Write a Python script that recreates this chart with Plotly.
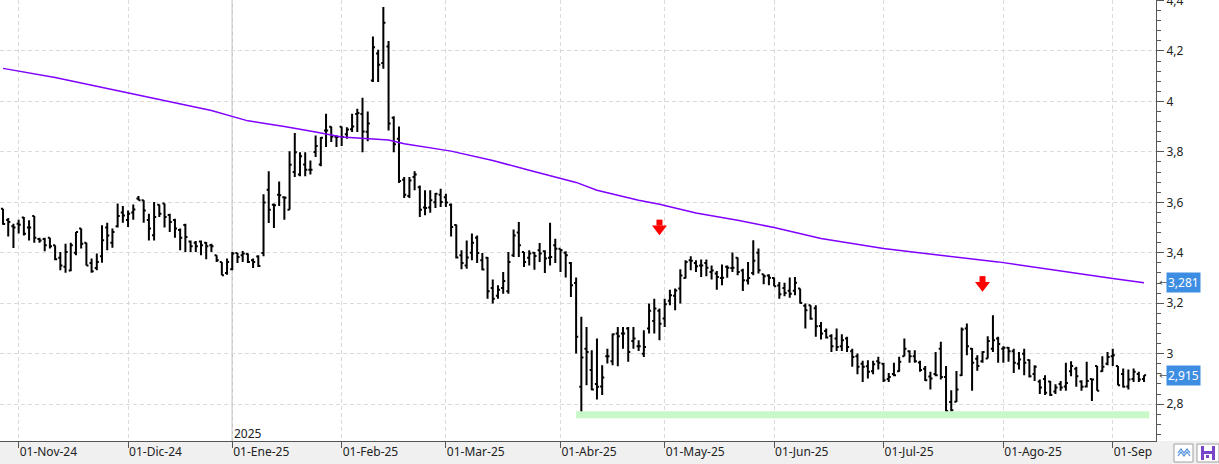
import plotly.graph_objects as go

# ---------------- data ----------------
open_ = [3.575, 3.530, 3.505, 3.515, 3.540, 3.500, 3.546, 3.455, 3.455, 3.460,
         3.430, 3.380, 3.345, 3.330, 3.400, 3.496, 3.440, 3.360, 3.340, 3.386,
         3.500, 3.440, 3.505, 3.560, 3.530, 3.560, 3.615, 3.608, 3.530, 3.470,
         3.590, 3.595, 3.550, 3.530, 3.490, 3.510, 3.445, 3.440, 3.445, 3.440,
         3.430, 3.390, 3.364, 3.320, 3.335, 3.399, 3.390, 3.395, 3.370, 3.385,
         3.399, 3.650, 3.590, 3.630, 3.620, 3.571, 3.720, 3.710, 3.750, 3.729,
         3.800, 3.750, 3.885, 3.900, 3.860, 3.900, 3.870, 3.890, 3.950, 3.950,
         3.880, 4.083, 4.190, 4.152, 4.218, 3.935, 3.852, 3.690, 3.625, 3.700,
         3.660, 3.580, 3.580, 3.600, 3.630, 3.620, 3.590, 3.510, 3.390, 3.350,
         3.400, 3.460, 3.370, 3.380, 3.260, 3.230, 3.260, 3.248, 3.390, 3.480,
         3.403, 3.380, 3.400, 3.410, 3.406, 3.380, 3.430, 3.416, 3.400, 3.360,
         3.280, 2.869, 3.020, 2.935, 2.880, 2.870, 2.990, 2.970, 3.080, 3.080,
         3.100, 3.050, 3.030, 3.000, 3.100, 3.130, 3.170, 3.140, 3.210, 3.230,
         3.258, 3.300, 3.370, 3.360, 3.350, 3.360, 3.324, 3.318, 3.300, 3.345,
         3.340, 3.380, 3.330, 3.290, 3.320, 3.400, 3.315, 3.310, 3.300, 3.270,
         3.260, 3.250, 3.250, 3.258, 3.190, 3.192, 3.180, 3.110, 3.090, 3.070,
         3.060, 3.030, 3.060, 3.010, 2.990, 2.960, 2.950, 2.930, 2.970, 2.960,
         2.900, 2.920, 2.930, 2.990, 3.010, 2.990, 2.965, 2.940, 2.910, 2.920,
         3.020, 2.908, 2.809, 2.810, 2.915, 3.100, 3.020, 2.980, 2.970, 2.981,
         3.020, 3.060, 3.020, 3.024, 3.010, 2.960, 3.000, 2.975, 2.920, 2.890,
         2.900, 2.890, 2.850, 2.880, 2.870, 2.930, 2.940, 2.890, 2.870, 2.900,
         2.951, 2.930, 2.960, 2.990, 2.951, 2.920, 2.870, 2.900, 2.920, 2.900]

high = [3.575, 3.538, 3.515, 3.531, 3.542, 3.529, 3.546, 3.460, 3.460, 3.460,
        3.430, 3.403, 3.436, 3.440, 3.482, 3.496, 3.440, 3.377, 3.397, 3.509,
        3.519, 3.496, 3.595, 3.585, 3.568, 3.591, 3.625, 3.608, 3.555, 3.601,
        3.591, 3.595, 3.555, 3.535, 3.496, 3.515, 3.449, 3.447, 3.449, 3.443,
        3.436, 3.390, 3.364, 3.377, 3.403, 3.399, 3.407, 3.397, 3.377, 3.390,
        3.632, 3.723, 3.595, 3.683, 3.624, 3.802, 3.875, 3.799, 3.799, 3.766,
        3.865, 3.859, 3.951, 3.901, 3.865, 3.901, 3.898, 3.951, 3.971, 4.015,
        3.960, 4.257, 4.205, 4.374, 4.239, 3.941, 3.901, 3.700, 3.700, 3.723,
        3.667, 3.648, 3.648, 3.637, 3.654, 3.634, 3.595, 3.512, 3.410, 3.449,
        3.476, 3.469, 3.399, 3.383, 3.294, 3.271, 3.324, 3.403, 3.492, 3.522,
        3.403, 3.410, 3.403, 3.439, 3.410, 3.519, 3.456, 3.416, 3.406, 3.364,
        3.302, 3.146, 3.106, 3.014, 3.060, 2.954, 3.020, 3.080, 3.106, 3.106,
        3.106, 3.106, 3.053, 3.093, 3.199, 3.218, 3.179, 3.218, 3.254, 3.258,
        3.335, 3.370, 3.386, 3.370, 3.373, 3.373, 3.350, 3.328, 3.354, 3.350,
        3.401, 3.381, 3.337, 3.364, 3.450, 3.417, 3.315, 3.315, 3.302, 3.284,
        3.281, 3.302, 3.304, 3.258, 3.199, 3.192, 3.192, 3.126, 3.100, 3.077,
        3.100, 3.077, 3.067, 3.020, 3.001, 2.972, 2.974, 2.972, 2.988, 2.964,
        2.924, 2.964, 2.988, 3.060, 3.014, 3.014, 2.972, 2.951, 2.928, 3.007,
        3.047, 2.951, 2.855, 2.931, 3.104, 3.120, 3.023, 2.994, 3.010, 3.069,
        3.152, 3.067, 3.030, 3.027, 3.020, 3.007, 3.020, 2.977, 2.954, 2.898,
        2.915, 2.892, 2.879, 2.892, 2.964, 2.970, 2.948, 2.895, 2.968, 2.902,
        2.951, 2.990, 3.007, 3.020, 2.951, 2.941, 2.937, 2.941, 2.928, 2.915]

low = [3.511, 3.465, 3.419, 3.476, 3.469, 3.449, 3.440, 3.440, 3.406, 3.417,
       3.370, 3.331, 3.321, 3.327, 3.390, 3.417, 3.350, 3.321, 3.331, 3.361,
       3.410, 3.420, 3.500, 3.519, 3.502, 3.531, 3.608, 3.519, 3.449, 3.449,
       3.542, 3.500, 3.482, 3.460, 3.410, 3.403, 3.403, 3.403, 3.390, 3.374,
       3.403, 3.364, 3.311, 3.313, 3.331, 3.360, 3.364, 3.360, 3.340, 3.344,
       3.386, 3.518, 3.498, 3.585, 3.531, 3.571, 3.700, 3.703, 3.703, 3.710,
       3.780, 3.743, 3.819, 3.839, 3.819, 3.823, 3.852, 3.879, 3.879, 3.799,
       3.842, 4.077, 4.077, 4.129, 3.885, 3.799, 3.677, 3.617, 3.617, 3.648,
       3.542, 3.549, 3.559, 3.578, 3.582, 3.582, 3.465, 3.377, 3.335, 3.337,
       3.370, 3.360, 3.331, 3.218, 3.199, 3.218, 3.238, 3.238, 3.383, 3.383,
       3.344, 3.350, 3.333, 3.364, 3.320, 3.350, 3.360, 3.324, 3.302, 3.225,
       3.001, 2.759, 2.875, 2.855, 2.818, 2.836, 2.961, 2.954, 2.950, 3.020,
       2.968, 3.020, 3.011, 2.987, 3.080, 3.080, 3.053, 3.106, 3.192, 3.172,
       3.199, 3.298, 3.331, 3.324, 3.304, 3.307, 3.294, 3.254, 3.271, 3.301,
       3.324, 3.311, 3.249, 3.274, 3.311, 3.318, 3.275, 3.271, 3.267, 3.218,
       3.228, 3.222, 3.232, 3.199, 3.100, 3.135, 3.067, 3.056, 3.060, 3.007,
       3.011, 3.011, 3.007, 2.948, 2.919, 2.888, 2.902, 2.919, 2.937, 2.888,
       2.888, 2.911, 2.928, 2.990, 2.964, 2.964, 2.928, 2.892, 2.858, 2.911,
       2.898, 2.770, 2.770, 2.809, 2.912, 2.994, 2.853, 2.932, 2.964, 2.981,
       3.007, 2.964, 2.964, 2.968, 2.924, 2.937, 2.915, 2.906, 2.892, 2.840,
       2.836, 2.832, 2.840, 2.853, 2.853, 2.911, 2.869, 2.853, 2.866, 2.813,
       2.853, 2.928, 2.954, 2.951, 2.875, 2.866, 2.858, 2.888, 2.888, 2.888]

close = [3.514, 3.522, 3.500, 3.511, 3.475, 3.500, 3.460, 3.449, 3.430, 3.426,
         3.374, 3.350, 3.403, 3.430, 3.482, 3.436, 3.350, 3.327, 3.364, 3.450,
         3.469, 3.482, 3.546, 3.548, 3.555, 3.572, 3.608, 3.568, 3.496, 3.542,
         3.555, 3.542, 3.522, 3.496, 3.460, 3.463, 3.426, 3.426, 3.430, 3.426,
         3.426, 3.370, 3.311, 3.364, 3.397, 3.383, 3.397, 3.364, 3.364, 3.348,
         3.599, 3.571, 3.588, 3.628, 3.618, 3.749, 3.799, 3.783, 3.729, 3.729,
         3.823, 3.856, 3.885, 3.861, 3.859, 3.859, 3.889, 3.901, 3.954, 3.881,
         3.912, 4.215, 4.145, 4.312, 3.912, 3.830, 3.685, 3.630, 3.687, 3.710,
         3.571, 3.578, 3.608, 3.634, 3.601, 3.599, 3.502, 3.381, 3.360, 3.381,
         3.440, 3.399, 3.334, 3.248, 3.218, 3.254, 3.288, 3.364, 3.469, 3.430,
         3.364, 3.397, 3.387, 3.397, 3.377, 3.383, 3.416, 3.410, 3.390, 3.271,
         3.067, 2.985, 3.007, 2.858, 2.869, 2.906, 2.990, 3.077, 3.069, 3.080,
         3.007, 3.060, 3.030, 3.027, 3.170, 3.179, 3.119, 3.196, 3.232, 3.251,
         3.310, 3.364, 3.368, 3.347, 3.350, 3.341, 3.330, 3.304, 3.301, 3.341,
         3.341, 3.324, 3.291, 3.300, 3.368, 3.331, 3.307, 3.301, 3.267, 3.236,
         3.241, 3.238, 3.281, 3.201, 3.172, 3.139, 3.109, 3.080, 3.064, 3.030,
         3.027, 3.053, 3.027, 2.987, 2.948, 2.948, 2.928, 2.958, 2.964, 2.895,
         2.908, 2.915, 2.968, 3.020, 2.990, 2.970, 2.935, 2.895, 2.902, 2.915,
         2.908, 2.773, 2.776, 2.858, 3.096, 3.030, 2.964, 2.951, 3.007, 3.050,
         3.053, 3.038, 3.024, 3.010, 2.964, 2.977, 2.964, 2.911, 2.948, 2.866,
         2.845, 2.836, 2.866, 2.866, 2.884, 2.951, 2.911, 2.869, 2.892, 2.898,
         2.853, 2.948, 2.987, 2.994, 2.875, 2.869, 2.898, 2.928, 2.898, 2.915]

# moving average (read at selected sessions)
ma_idx = [0, 10, 20, 30, 40, 47, 54, 60, 65, 74, 77, 86, 94, 101, 110, 114,
          122, 126, 133, 141, 148, 157, 169, 177, 191, 213, 219]
ma_val = [4.131, 4.095, 4.051, 4.008, 3.964, 3.923, 3.901, 3.879, 3.859, 3.847,
          3.832, 3.803, 3.766, 3.727, 3.679, 3.648, 3.608, 3.592, 3.558, 3.529,
          3.500, 3.457, 3.417, 3.397, 3.364, 3.298, 3.281]

# month ticks (session index of first trading day)
month_idx = [3, 24, 44, 65, 85, 107, 127, 148, 169, 192, 213]
month_lbl = ['01-Nov-24', '01-Dic-24', '01-Ene-25', '01-Feb-25', '01-Mar-25',
             '01-Abr-25', '01-May-25', '01-Jun-25', '01-Jul-25', '01-Ago-25',
             '01-Sep']
year_label = '2025'
year_idx = 44

# support line and signal arrows
support_x = [110, 220]
support_level = 2.758
arrow_x = [126, 188]
arrow_tip = [3.470, 3.246]

# ---------------- layout geometry ----------------
W, H = 1219, 464
ML, MR, MT, MB = 0, 63, 0, 23
PW, PH = W - ML - MR, H - MT - MB
Y_MIN, Y_MAX = 2.654, 4.402
X_MIN, X_MAX = -0.58, 221.3
ppu = PH / (Y_MAX - Y_MIN)


def fmt(v):
    return f"{v:.3f}".replace('.', ',')


def px(x, y):
    """pixel (page) -> paper coordinates"""
    return (x - ML) / PW, (MT + PH - y) / PH


idx = list(range(len(close)))

fig = go.Figure()

fig.add_trace(go.Scatter(x=support_x, y=[support_level] * len(support_x),
                         mode='lines', line=dict(color='#c8f8c8', width=7),
                         hoverinfo='skip'))

fig.add_trace(go.Ohlc(x=idx, open=open_, high=high, low=low, close=close,
                      increasing=dict(line=dict(color='#000000', width=2)),
                      decreasing=dict(line=dict(color='#000000', width=2)),
                      tickwidth=0.4))

fig.add_trace(go.Scatter(x=ma_idx, y=ma_val, mode='lines',
                         line=dict(color='#8000ff', width=1.5), hoverinfo='skip'))

# red down arrows: stem + head
fig.add_trace(go.Scatter(x=arrow_x, y=[v + 12.5 / ppu for v in arrow_tip],
                         mode='markers',
                         marker=dict(symbol='square', size=6, color='#ff0000',
                                     line=dict(width=0)), hoverinfo='skip'))
fig.add_trace(go.Scatter(x=arrow_x, y=[v + 6.5 / ppu for v in arrow_tip],
                         mode='markers',
                         marker=dict(symbol='triangle-down', size=13, color='#ff0000',
                                     line=dict(width=0)), hoverinfo='skip'))

shapes = []
# bottom grey band
bx0, by0 = px(0, H)
bx1, by1 = px(W, MT + PH)
shapes.append(dict(type='rect', xref='paper', yref='paper', x0=bx0, x1=bx1,
                   y0=by0, y1=by1, fillcolor='#f0f0f0', line=dict(width=0),
                   layer='below'))
# year separator
shapes.append(dict(type='line', xref='x', yref='paper', x0=year_idx, x1=year_idx,
                   y0=0, y1=1, line=dict(color='#c8c8c8', width=1.5), layer='between'))

# icons in bottom-right corner
def rect_px(x0, y0, x1, y1, fill, line_color=None, lw=0):
    a = px(x0, y1)
    b = px(x1, y0)
    return dict(type='rect', xref='paper', yref='paper', x0=a[0], y0=a[1],
                x1=b[0], y1=b[1], fillcolor=fill,
                line=dict(color=line_color or fill, width=lw), layer='above')

shapes.append(rect_px(1174, 444, 1193, 462, '#ffffff', '#a0a0a0', 1))
shapes.append(rect_px(1197, 444, 1219, 462, '#ffffff', '#a0a0a0', 1))
for dy in (0, 3):
    pts = [(1178, 453 + dy), (1181, 449 + dy), (1184, 453 + dy),
           (1187, 449 + dy), (1190, 453 + dy)]
    path = 'M ' + ' L '.join(f'{px(a, b)[0]:.5f},{px(a, b)[1]:.5f}' for a, b in pts)
    shapes.append(dict(type='path', xref='paper', yref='paper', path=path,
                       line=dict(color='#4a8fd8', width=1.2), layer='above'))
shapes.append(rect_px(1201, 446, 1215, 460, '#7b45c8'))
shapes.append(rect_px(1204, 446, 1212, 451, '#ffffff'))
shapes.append(rect_px(1204, 454, 1212, 460, '#ffffff'))
shapes.append(rect_px(1206, 455, 1209, 458, '#7b45c8'))

annotations = []
# value boxes on the right axis
for v in (ma_val[-1], close[-1]):
    annotations.append(dict(xref='paper', yref='y', x=(1166 - ML) / PW, y=v,
                            xanchor='left', yanchor='middle', text=fmt(v),
                            showarrow=False, bgcolor='#3d8ee2', borderpad=1,
                            font=dict(color='#ffffff', size=12, family='Noto Sans')))
    annotations.append(dict(xref='paper', yref='y', x=(1157 - ML) / PW, y=v,
                            xanchor='left', yanchor='middle', text='←',
                            showarrow=False,
                            font=dict(color='#555555', size=10, family='DejaVu Sans')))
# year label
annotations.append(dict(xref='x', yref='paper', x=year_idx, y=(PH - 433 + MT) / PH,
                        xanchor='left', yanchor='middle', xshift=0, text=year_label,
                        showarrow=False, font=dict(color='#222222', size=12,
                                                   family='Noto Sans')))

grid = '#dadada'
fig.update_layout(
    width=W, height=H,
    margin=dict(l=ML, r=MR, t=MT, b=MB, pad=0, autoexpand=False),
    paper_bgcolor='#ffffff', plot_bgcolor='#ffffff',
    showlegend=False, separators=',.',
    font=dict(family='Noto Sans', size=12, color='#222222'),
    shapes=shapes, annotations=annotations,
    xaxis=dict(range=[X_MIN, X_MAX], tickmode='array', tickvals=month_idx,
               ticktext=month_lbl, ticks='outside', ticklen=6, tickcolor='#555555',
               showline=True, linecolor='#555555', linewidth=1,
               showgrid=True, gridcolor=grid, griddash='4px,3px', gridwidth=1,
               zeroline=False, ticklabelposition='outside right',
               automargin=False,
               rangeslider=dict(visible=False), fixedrange=True),
    yaxis=dict(range=[Y_MIN, Y_MAX], side='right', tick0=0, dtick=0.2,
               ticks='outside', ticklen=7, tickcolor='#555555',
               showline=True, linecolor='#555555', linewidth=1,
               showgrid=True, gridcolor=grid, griddash='4px,3px', gridwidth=1,
               zeroline=False, fixedrange=True, ticklabeloverflow='allow',
               automargin=False,
               minor=dict(dtick=0.04, ticks='outside', ticklen=4,
                          tickcolor='#555555', showgrid=False)),
)

fig.write_html('out.html')
